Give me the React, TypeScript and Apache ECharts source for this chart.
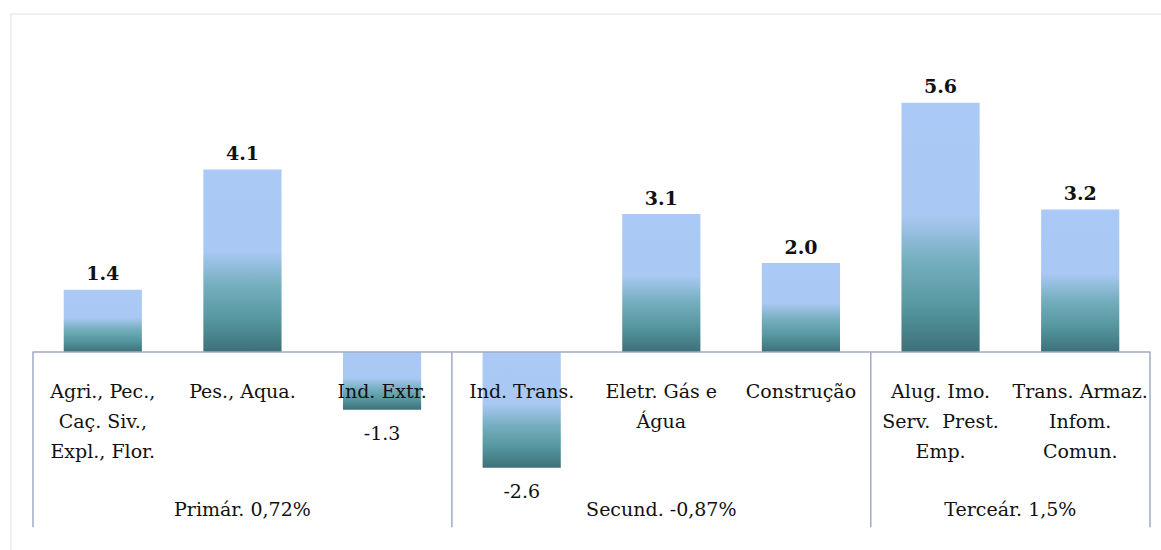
import React, { useEffect, useRef } from "react";
import * as echarts from "echarts";

const categories = [
  "Agri., Pec.,\nCaç. Siv.,\nExpl., Flor.",
  "Pes., Aqua.",
  "Ind. Extr.",
  "Ind. Trans.",
  "Eletr. Gás e\nÁgua",
  "Construção",
  "Alug. Imo.\nServ.  Prest.\nEmp.",
  "Trans. Armaz.\nInfom.\nComun.",
];
const values = [1.4, 4.1, -1.3, -2.6, 3.1, 2.0, 5.6, 3.2];
const groupNames = ["Primár. 0,72%", "Secund. -0,87%", "Terceár. 1,5%"];
const groupSizes = [3, 3, 2];

const FONT = "DejaVu Serif";
const AXIS_COLOR = "#9eabc2";

const barGradient = () =>
  new echarts.graphic.LinearGradient(0, 0, 0, 1, [
    { offset: 0, color: "#abc9f6" },
    { offset: 0.45, color: "#a9c8f3" },
    { offset: 0.64, color: "#74aebd" },
    { offset: 0.82, color: "#55979f" },
    { offset: 1, color: "#3d7078" },
  ]);

export default function App() {
  const ref = useRef<HTMLDivElement>(null);
  useEffect(() => {
    document.body.style.margin = "0";
    const chart = echarts.init(ref.current!, null, { renderer: "svg" });
    const data = values.map((v) => ({
      value: v,
      itemStyle: { color: barGradient() },
      label:
        v >= 0
          ? { position: "top", fontWeight: "bold", distance: 7 }
          : { position: "bottom", fontWeight: "normal", distance: 14 },
    }));
    const xAxisBase = {
      type: "category",
      data: categories,
      position: "bottom",
      z: 5,
      axisLine: { onZero: false, lineStyle: { color: AXIS_COLOR, width: 1.5 } },
      axisTick: { show: false },
      axisLabel: {
        interval: 0,
        margin: 24,
        fontFamily: FONT,
        fontSize: 19,
        color: "#111",
        lineHeight: 30,
        verticalAlign: "top",
      },
    };
    chart.setOption({
      animation: false,
      grid: { left: 33, right: 11, top: 85, bottom: 20, outerBoundsMode: "none", containLabel: false },
      xAxis: { ...xAxisBase, offset: 0 },
      yAxis: {
        type: "value",
        min: -4,
        max: 6,
        show: false,
        splitLine: { show: false },
      },
      series: [
        {
          type: "bar",
          data,
          barCategoryGap: "44%",
          label: {
            show: true,
            fontFamily: FONT,
            fontSize: 19,
            color: "#111",
            formatter: (p: any) => Number(p.value).toFixed(1),
          },
        },
      ],
    });

    const x0 = chart.convertToPixel({ xAxisIndex: 0 }, 0) as number;
    const x1 = chart.convertToPixel({ xAxisIndex: 0 }, 1) as number;
    const band = x1 - x0;
    const yZero = chart.convertToPixel({ yAxisIndex: 0 }, 0) as number;
    const yMin = chart.convertToPixel({ yAxisIndex: 0 }, -4) as number;
    const yBottom = chart.convertToPixel({ yAxisIndex: 0 }, -3.94) as number;
    const yGroup = chart.convertToPixel({ yAxisIndex: 0 }, -3.52) as number;
    const graphics: any[] = [
      {
        type: "rect",
        shape: { x: 11, y: 14, width: 1300, height: 700 },
        style: { fill: "none", stroke: "#ebebeb", lineWidth: 1.5 },
        silent: true,
        z: -1,
      },
    ];
    let idx = 0;
    const bounds: number[] = [0];
    groupSizes.forEach((s) => {
      idx += s;
      bounds.push(idx);
    });
    bounds.forEach((b) => {
      const x = x0 - band / 2 + b * band;
      graphics.push({
        type: "line",
        shape: { x1: x, y1: yZero, x2: x, y2: yBottom },
        style: { stroke: AXIS_COLOR, lineWidth: 1.5 },
        z: 10,
      });
    });
    groupNames.forEach((g, i) => {
      const cx = x0 - band / 2 + ((bounds[i] + bounds[i + 1]) / 2) * band;
      graphics.push({
        type: "text",
        x: cx,
        y: yGroup,
        style: {
          text: g,
          fontFamily: FONT,
          fontSize: 19,
          fill: "#111",
          align: "center",
          verticalAlign: "middle",
        },
        z: 10,
      });
    });
    chart.setOption({ xAxis: { ...xAxisBase, offset: yZero - yMin }, graphic: graphics });
    return () => chart.dispose();
  }, []);
  return (
    <div
      ref={ref}
      style={{ position: "absolute", left: 0, top: 0, width: 1161, height: 550, background: "#fff" }}
    />
  );
}
